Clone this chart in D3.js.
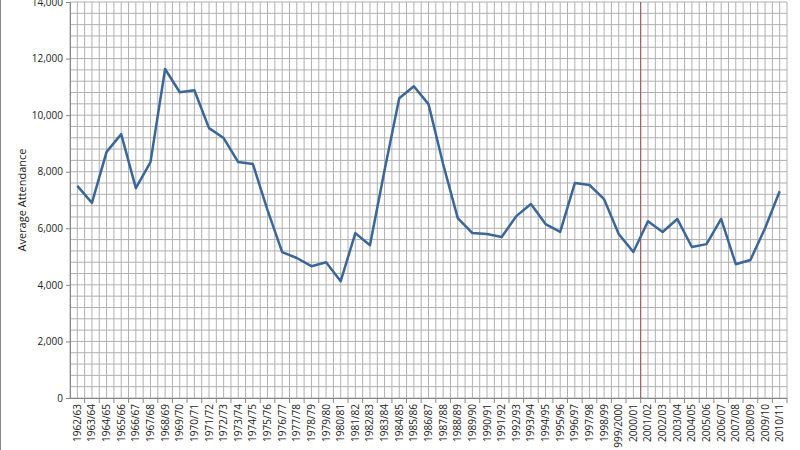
<!DOCTYPE html>
<html><head><meta charset="utf-8">
<script src="https://cdn.jsdelivr.net/npm/d3@7"></script>
<style>body{margin:0;background:#fff}text{font-family:"Open Sans",sans-serif;fill:#222}</style>
</head><body>
<script>
const seasons = [];
for (let y = 1962; y <= 2010; y++) seasons.push(y === 1999 ? "1999/2000" : y + "/" + String((y + 1) % 100).padStart(2, "0"));
const attendance = [7500, 6900, 8700, 9330, 7420, 8340, 11630, 10810, 10880, 9540, 9190, 8340, 8270, 6640, 5160, 4950, 4660, 4800, 4130, 5830, 5400, 8060, 10600, 11020, 10390, 8270, 6360, 5830, 5800, 5690, 6430, 6860, 6150, 5870, 7600, 7530, 7030, 5800, 5160, 6250, 5870, 6330, 5340, 5440, 6330, 4730, 4880, 6000, 7310];
const yMajor = [0, 2000, 4000, 6000, 8000, 10000, 12000, 14000];
const markerSeason = "2000/01";

const W = 800, H = 450, m = {l: 70, r: 13, t: 2, b: 52};
const svg = d3.select("body").append("svg").attr("width", W).attr("height", H);
const x = d3.scaleBand().domain(seasons).range([m.l, W - m.r]);
const y = d3.scaleLinear().domain([0, 14000]).range([H - m.b, m.t]);

// horizontal grid every 400
svg.append("g").selectAll("line").data(d3.range(0, 14001, 400)).enter().append("line")
  .attr("x1", m.l).attr("x2", W - m.r).attr("y1", d => y(d)).attr("y2", d => y(d))
  .attr("stroke", "#b0b0b0").attr("stroke-width", 1);
// vertical grid every half category
const halves = d3.range(0, seasons.length * 2 + 1).map(i => m.l + i * x.bandwidth() / 2);
svg.append("g").selectAll("line").data(halves).enter().append("line")
  .attr("x1", d => d).attr("x2", d => d).attr("y1", y(14000)).attr("y2", y(0))
  .attr("stroke", "#b0b0b0").attr("stroke-width", 1);
// marker line
const mx = x(markerSeason) + x.bandwidth();
svg.append("line").attr("x1", mx).attr("x2", mx).attr("y1", y(14000)).attr("y2", y(0))
  .attr("stroke", "#a05050").attr("stroke-width", 1);
// left frame
svg.append("line").attr("x1", 0.5).attr("x2", 0.5).attr("y1", 0).attr("y2", H).attr("stroke", "#888");

const ya = svg.append("g").attr("transform", `translate(${m.l},0)`)
  .call(d3.axisLeft(y).tickValues(yMajor).tickFormat(d3.format(",")).tickSize(4));
ya.selectAll("text").style("font-size", "10px");
ya.selectAll("line,path").attr("stroke", "#888");

const xa = svg.append("g").attr("transform", `translate(0,${y(0)})`)
  .call(d3.axisBottom(x).tickSize(0));
xa.selectAll("text").style("font-size", "10px").attr("transform", "rotate(-90)")
  .attr("text-anchor", "end").attr("x", -6).attr("y", 0).attr("dy", "0.35em");
xa.select("path").attr("stroke", "#888");
xa.selectAll(".tick").append("line").attr("x1", x.bandwidth() / 2).attr("x2", x.bandwidth() / 2)
  .attr("y1", 0).attr("y2", 5).attr("stroke", "#888");

svg.append("text").attr("transform", `translate(26,${(m.t + H - m.b) / 2}) rotate(-90)`)
  .attr("text-anchor", "middle").style("font-size", "11px").text("Average Attendance");

const line = d3.line().x((d, i) => x(seasons[i]) + x.bandwidth() / 2).y(d => y(d));
svg.append("path").datum(attendance).attr("d", line).attr("fill", "none")
  .attr("stroke", "#3a6699").attr("stroke-width", 2.5).attr("stroke-linejoin", "round");
</script>
</body></html>
